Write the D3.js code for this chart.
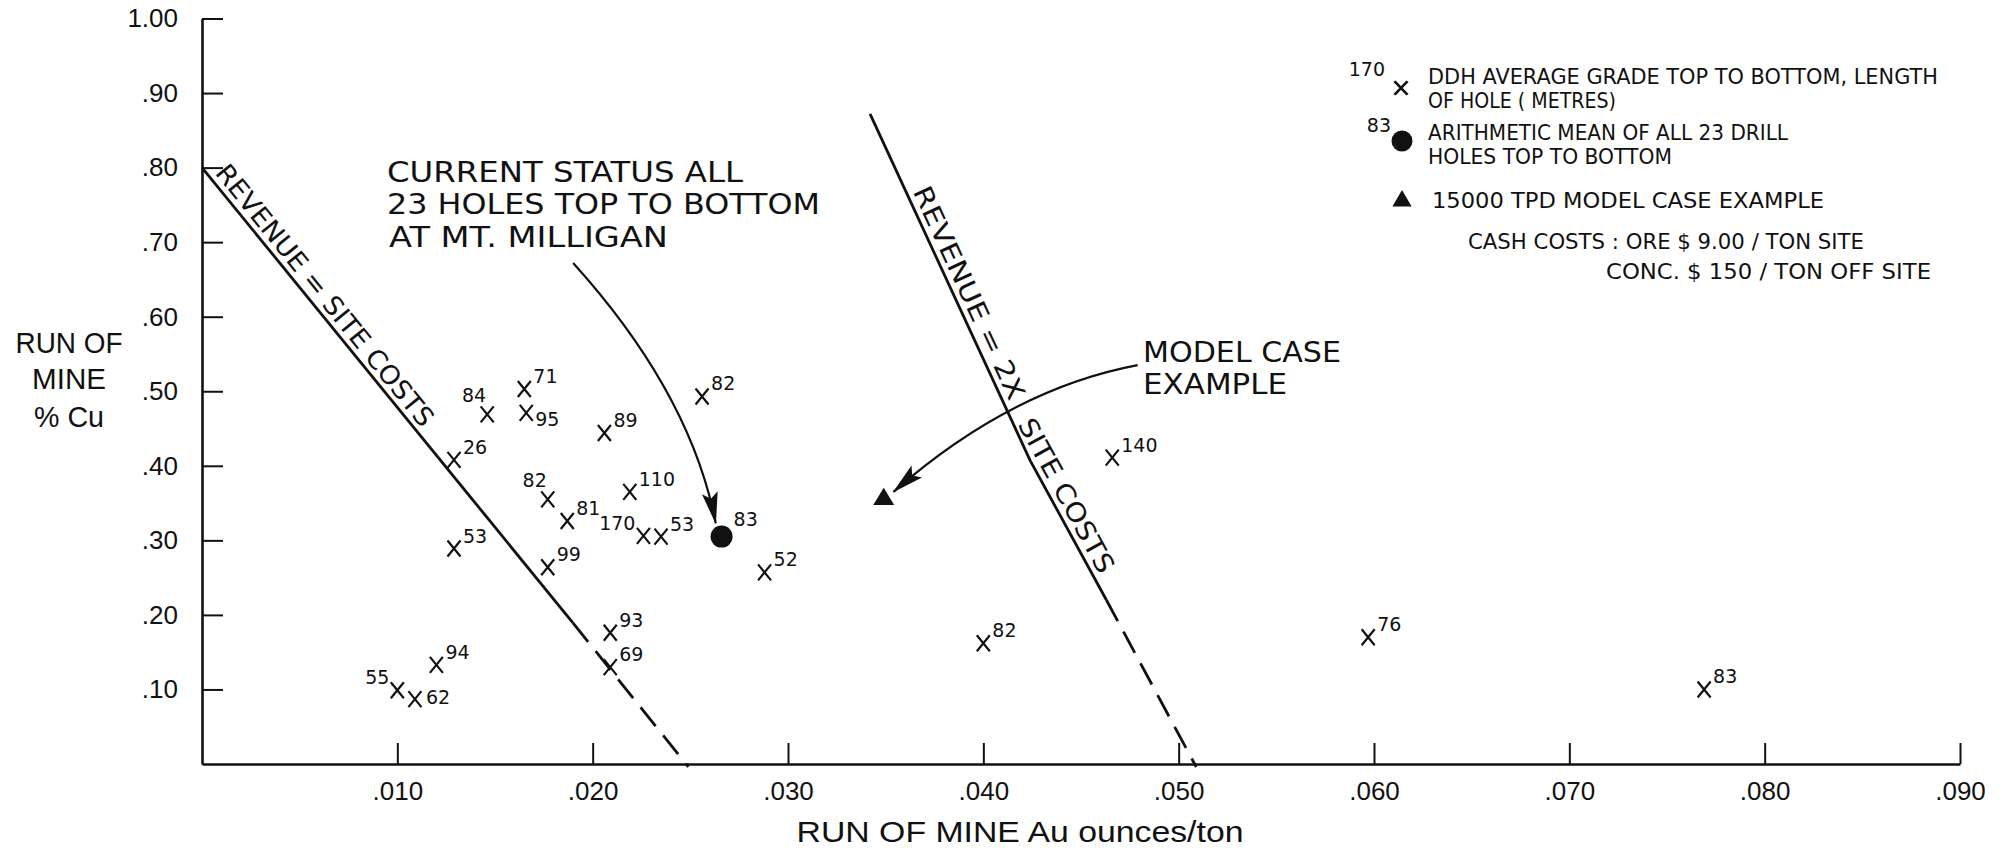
<!DOCTYPE html>
<html>
<head>
<meta charset="utf-8">
<script src="https://cdn.jsdelivr.net/npm/d3@7"></script>
<style>
  body { margin: 0; background: #fff; }
  svg { display: block; background: #fff; }
</style>
</head>
<body>
<div id="chart"></div>
<script>

// drill holes: run of mine Au (oz/ton), % Cu, hole length (m)
const holeAu  = [0.0129, 0.0146, 0.0165, 0.0166, 0.0206, 0.0256, 0.0177, 0.0187, 0.0219, 0.0226, 0.0235, 0.0129,
                 0.0177, 0.0288, 0.0209, 0.0209, 0.0100, 0.0109, 0.0120, 0.0466, 0.0400, 0.0597, 0.0769];
const holeCu  = [0.408, 0.469, 0.503, 0.471, 0.444, 0.493, 0.355, 0.326, 0.365, 0.306, 0.305, 0.289,
                 0.264, 0.257, 0.176, 0.130, 0.099, 0.087, 0.133, 0.411, 0.162, 0.170, 0.100];
const holeLen = [26, 84, 71, 95, 89, 82, 82, 81, 110, 170, 53, 53,
                 99, 52, 93, 69, 55, 62, 94, 140, 82, 76, 83];

// arithmetic mean of the 23 holes, and the model case
const meanAu = 0.0266, meanCu = 0.305, meanLen = 83;
const modelAu = 0.0349, modelCu = 0.355;

// break-even lines [Au, Cu]
const siteCostSolid   = [[0, 0.80], [0.0190, 0.189]];
const siteCostDashed  = [[0.0190, 0.189], [0.0249, -0.004]];
const twiceCostSolid  = [[0.0342, 0.872], [0.0424, 0.407], [0.0463, 0.220]];
const twiceCostDashed = [[0.0463, 0.220], [0.0509, -0.004]];

// annotation arrows [Au, Cu]: start, bend, tip
const statusArrow = [[0.0190, 0.672], [0.0250, 0.498], [0.0263, 0.323]];
const modelArrow  = [[0.0479, 0.535], [0.0414, 0.503], [0.0354, 0.365]];

const xTicks = [0.01, 0.02, 0.03, 0.04, 0.05, 0.06, 0.07, 0.08, 0.09];
const xTickLabels = ['.010', '.020', '.030', '.040', '.050', '.060', '.070', '.080', '.090'];
const yTicks = [0.1, 0.2, 0.3, 0.4, 0.5, 0.6, 0.7, 0.8, 0.9, 1.0];
const yTickLabels = ['.10', '.20', '.30', '.40', '.50', '.60', '.70', '.80', '.90', '1.00'];


const W = 2008, H = 848;
const LETTER = "'DejaVu Sans', sans-serif";
const PLAIN = "'Liberation Sans', Arial, sans-serif";
const INK = '#111';

const svg = d3.select('#chart')
    .append('svg')
    .attr('width', W)
    .attr('height', H);

const x = d3.scaleLinear().domain([0, 0.09]).range([202, 1960]);
const y = d3.scaleLinear().domain([0, 1]).range([764, 18.5]);

// arrow heads
const defs = svg.append('defs');
defs.append('marker')
    .attr('id', 'head')
    .attr('viewBox', '0 0 32 18')
    .attr('refX', 31).attr('refY', 9)
    .attr('markerWidth', 32).attr('markerHeight', 18)
    .attr('markerUnits', 'userSpaceOnUse')
    .attr('orient', 'auto')
    .append('path')
    .attr('d', 'M0,1 L32,9 L0,17 L6,9 Z')
    .attr('fill', INK);

// axes
const xAxis = svg.append('g')
    .attr('transform', `translate(0,${y(0)})`)
    .call(d3.axisBottom(x)
        .tickValues(xTicks)
        .tickFormat((d, i) => xTickLabels[i])
        .tickSizeInner(-21)
        .tickSizeOuter(0)
        .tickPadding(18));

const yAxis = svg.append('g')
    .attr('transform', `translate(${x(0)},0)`)
    .call(d3.axisLeft(y)
        .tickValues(yTicks)
        .tickFormat((d, i) => yTickLabels[i])
        .tickSizeInner(-21)
        .tickSizeOuter(0)
        .tickPadding(24));

[xAxis, yAxis].forEach(g => {
    g.attr('font-family', PLAIN).attr('font-size', 26);
    g.select('.domain').attr('stroke', INK).attr('stroke-width', 2.6);
    g.selectAll('.tick line').attr('stroke', INK).attr('stroke-width', 2);
    g.selectAll('.tick text').attr('fill', INK);
});

// axis titles
const yTitle = [['RUN OF', 353, 107], ['MINE', 389, 74], ['% Cu', 427, 70]];
svg.append('g').selectAll('text')
    .data(yTitle)
    .join('text')
    .attr('x', 69).attr('y', d => d[1])
    .attr('text-anchor', 'middle')
    .attr('font-family', PLAIN).attr('font-size', 30)
    .attr('textLength', d => d[2]).attr('lengthAdjust', 'spacingAndGlyphs')
    .attr('fill', INK)
    .text(d => d[0]);

svg.append('text')
    .attr('x', 1020).attr('y', 842)
    .attr('text-anchor', 'middle')
    .attr('font-family', PLAIN).attr('font-size', 29)
    .attr('textLength', 447).attr('lengthAdjust', 'spacingAndGlyphs')
    .attr('fill', INK)
    .text('RUN OF MINE Au ounces/ton');

// break-even lines
const line = d3.line().x(d => x(d[0])).y(d => y(d[1]));
const lines = svg.append('g').attr('fill', 'none').attr('stroke', INK).attr('stroke-width', 2.8);
lines.append('path').attr('d', line(siteCostSolid));
lines.append('path').attr('d', line(siteCostDashed)).attr('stroke-dasharray', '24,12');
lines.append('path').attr('d', line(twiceCostSolid)).attr('stroke-linejoin', 'round');
lines.append('path').attr('d', line(twiceCostDashed)).attr('stroke-dasharray', '24,12');

// text running along a line segment, offset on the upper-right side
function alongLine(p0, p1, start, len, label) {
    const a = [x(p0[0]), y(p0[1])], b = [x(p1[0]), y(p1[1])];
    const dx = b[0] - a[0], dy = b[1] - a[1], L = Math.hypot(dx, dy);
    const ux = dx / L, uy = dy / L;
    const ang = Math.atan2(dy, dx) * 180 / Math.PI;
    svg.append('text')
        .attr('transform', `translate(${a[0] + ux * start},${a[1] + uy * start}) rotate(${ang})`)
        .attr('y', -6)
        .attr('font-family', LETTER).attr('font-size', 26)
        .attr('textLength', len).attr('lengthAdjust', 'spacingAndGlyphs')
        .attr('fill', INK)
        .text(label);
}
alongLine(siteCostSolid[0], siteCostDashed[1], 12, 329, 'REVENUE = SITE COSTS');
alongLine(twiceCostSolid[0], twiceCostSolid[1], 88, 232, 'REVENUE = 2X');
alongLine(twiceCostSolid[1], twiceCostSolid[2], -38, 172, 'SITE COSTS');

// arrows: one quadratic bend each
function arrowPath(pts) {
    const p = d3.path();
    p.moveTo(x(pts[0][0]), y(pts[0][1]));
    p.quadraticCurveTo(x(pts[1][0]), y(pts[1][1]), x(pts[2][0]), y(pts[2][1]));
    return p.toString();
}
[statusArrow, modelArrow].forEach(pts => {
    svg.append('path')
        .attr('d', arrowPath(pts))
        .attr('fill', 'none').attr('stroke', INK).attr('stroke-width', 2.2)
        .attr('marker-end', 'url(#head)');
});

// annotations
const note = (lines, xs, ys, lens, size) => {
    svg.append('g').selectAll('text')
        .data(lines)
        .join('text')
        .attr('x', (d, i) => xs[i]).attr('y', (d, i) => ys[i])
        .attr('font-family', LETTER).attr('font-size', size)
        .attr('textLength', (d, i) => lens[i]).attr('lengthAdjust', 'spacingAndGlyphs')
        .attr('fill', INK)
        .text(d => d);
};
note(['CURRENT STATUS ALL', '23 HOLES TOP TO BOTTOM', 'AT MT. MILLIGAN'],
     [387, 387, 389], [182, 214, 247], [356, 433, 279], 28);
note(['MODEL CASE', 'EXAMPLE'], [1143, 1143], [362, 394], [198, 144], 28);

// drill holes
const xMark = 'M-6.5,-8L6.5,8M-6.5,8L6.5,-8';
const labelSide = ['ur', 'ul', 'ur', 'dr', 'ur', 'ur', 'ul', 'ur', 'ur', 'lu', 'ur', 'ur',
                   'ur', 'ur', 'ur', 'ur', 'lu', 'r', 'ur', 'ur', 'ur', 'ur', 'ur'];
const sideOffset = {
    ur: [9, -6, 'start'],
    ul: [-1, -12, 'end'],
    lu: [-8, -6, 'end'],
    dr: [9, 13, 'start'],
    r:  [11, 5, 'start']
};
const holes = holeAu.map((au, i) => ({ au, cu: holeCu[i], len: holeLen[i], side: sideOffset[labelSide[i]] }));

const hole = svg.append('g')
    .selectAll('g')
    .data(holes)
    .join('g')
    .attr('transform', d => `translate(${x(d.au)},${y(d.cu)})`);
hole.append('path')
    .attr('d', xMark)
    .attr('stroke', INK).attr('stroke-width', 2.2).attr('fill', 'none');
hole.append('text')
    .attr('x', d => d.side[0]).attr('y', d => d.side[1])
    .attr('text-anchor', d => d.side[2])
    .attr('font-family', LETTER).attr('font-size', 19)
    .attr('fill', INK)
    .text(d => d.len);

// mean of all holes
svg.append('circle')
    .attr('cx', x(meanAu)).attr('cy', y(meanCu)).attr('r', 11)
    .attr('fill', INK);
svg.append('text')
    .attr('x', x(meanAu) + 12).attr('y', y(meanCu) - 11)
    .attr('font-family', LETTER).attr('font-size', 19)
    .attr('fill', INK)
    .text(meanLen);

// model case
const tri = d3.symbol().type(d3.symbolTriangle).size(190);
svg.append('path')
    .attr('d', tri())
    .attr('transform', `translate(${x(modelAu)},${y(modelCu)}) scale(1,0.95)`)
    .attr('fill', INK);

// legend
const legend = svg.append('g');
legend.append('path')
    .attr('d', xMark)
    .attr('transform', 'translate(1401,88) scale(1.0,0.85)')
    .attr('stroke', INK).attr('stroke-width', 2.8).attr('fill', 'none');
legend.append('text')
    .attr('x', 1385).attr('y', 76).attr('text-anchor', 'end')
    .attr('font-family', LETTER).attr('font-size', 19).attr('fill', INK)
    .text('170');
legend.append('circle')
    .attr('cx', 1402).attr('cy', 141).attr('r', 10.5)
    .attr('fill', INK);
legend.append('text')
    .attr('x', 1391).attr('y', 132).attr('text-anchor', 'end')
    .attr('font-family', LETTER).attr('font-size', 19).attr('fill', INK)
    .text('83');
legend.append('path')
    .attr('d', d3.symbol().type(d3.symbolTriangle).size(160)())
    .attr('transform', 'translate(1402,201)')
    .attr('fill', INK);

note(['DDH AVERAGE GRADE TOP TO BOTTOM, LENGTH', 'OF HOLE ( METRES)',
      'ARITHMETIC MEAN OF ALL 23 DRILL', 'HOLES TOP TO BOTTOM',
      '15000 TPD  MODEL CASE EXAMPLE',
      'CASH COSTS :  ORE  $ 9.00 / TON SITE', 'CONC.  $ 150 / TON  OFF SITE'],
     [1428, 1428, 1428, 1428, 1432, 1468, 1606],
     [84, 108, 140, 164, 208, 249, 279],
     [510, 188, 360, 244, 392, 396, 325], 21);

</script>
</body>
</html>
